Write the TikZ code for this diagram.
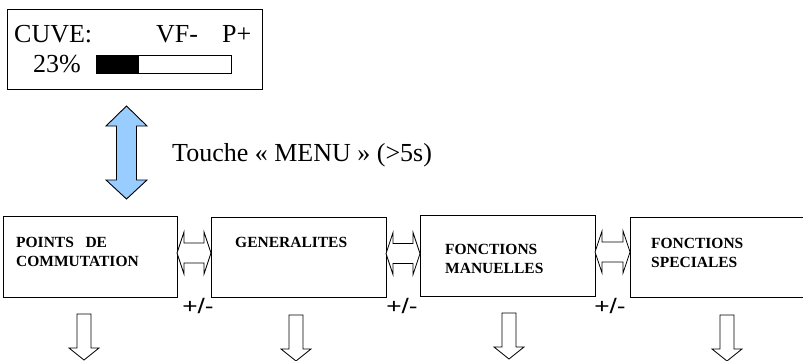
\documentclass[tikz,border=0pt]{standalone}
\usepackage{fontspec}
\setmainfont{Liberation Serif}
\newfontfamily\arialfont{Liberation Sans}
\usetikzlibrary{calc}
\definecolor{arrowblue}{RGB}{153,204,255}
\tikzset{
  menubox/.style={draw, line width=0.9pt, inner sep=0pt, outer sep=0pt},
  lcdtext/.style={anchor=base west, inner sep=0pt, font=\fontsize{26}{30}\selectfont},
  boxlabel/.style={anchor=base west, inner sep=0pt, font=\bfseries\fontsize{15.5}{18}\selectfont},
  pmlabel/.style={inner sep=0pt, font=\arialfont\fontsize{21}{24}\selectfont},
  hollow/.style={draw, fill=white, line width=0.8pt, line join=miter},
}
\newcommand\downblock[1]{\draw[hollow] (#1) ++(-7,0) -- ++(14,0) -- ++(0,34) -- ++(8,0) -- ++(-15,12) -- ++(-15,-12) -- ++(8,0) -- cycle;}
\newcommand\hdblock[2]{%
  \coordinate (L) at ($(#1.east)+(0,-3.5)$);
  \coordinate (R) at (L -| #2.west);
  \draw[hollow] (L) -- ($(L)+(7,-21)$) -- ($(L)+(7,-10)$) -- ($(R)+(-7,-10)$) -- ($(R)+(-7,-21)$) -- (R)
    -- ($(R)+(-7,21)$) -- ($(R)+(-7,10)$) -- ($(L)+(7,10)$) -- ($(L)+(7,21)$) -- cycle;}
\begin{document}
\begin{tikzpicture}[x=1pt,y=-1pt]
\useasboundingbox (0,0) rectangle (803,361);
% LCD display
\node[menubox, minimum width=255pt, minimum height=80pt] (lcd) at (134.5,49) {};
\node[lcdtext] (cuve) at (14,43) {CUVE:};
\node[lcdtext] (vf) at (156,43) {VF-};
\node[lcdtext] (pp) at (222,43) {P+};
\node[lcdtext] (pct) at (33,73) {23\%};
\node[draw, line width=0.9pt, inner sep=0pt, outer sep=0pt, minimum width=135pt, minimum height=18pt] (bar) at (163.5,64) {};
\fill (bar.north west) rectangle ++(43,19);
% MENU double arrow
\coordinate (menuTop) at (126.5,106);
\coordinate (menuBot) at (126.5,199);
\draw[fill=arrowblue, line width=0.9pt] (menuTop) -- ($(menuTop)+(20.5,20)$) -- ($(menuTop)+(10,20)$) -- ($(menuBot)+(10,-19)$) -- ($(menuBot)+(20.5,-19)$) -- (menuBot)
  -- ($(menuBot)+(-20.5,-19)$) -- ($(menuBot)+(-10,-19)$) -- ($(menuTop)+(-10,20)$) -- ($(menuTop)+(-20.5,20)$) -- cycle;
\node[anchor=base west, inner sep=0pt, font=\fontsize{26}{30}\selectfont] (touche) at (172,161) {Touche «~MENU~» (>5s)};
% menu boxes
\node[menubox, minimum width=174pt, minimum height=81pt] (b1) at (90,256.5) {};
\node[menubox, minimum width=175pt, minimum height=80pt] (b2) at (298.5,257) {};
\node[menubox, minimum width=175pt, minimum height=81pt] (b3) at (507.5,255.5) {};
\node[menubox, minimum width=200pt, minimum height=80pt] (b4) at (730,257) {};
\node[boxlabel] (t1a) at (16,247) {POINTS\ \ \ DE};
\node[boxlabel] (t1b) at (16,266) {COMMUTATION};
\node[boxlabel] (t2) at (235,247) {GENERALITES};
\node[boxlabel] (t3a) at (445,254) {FONCTIONS};
\node[boxlabel] (t3b) at (445,273) {MANUELLES};
\node[boxlabel] (t4a) at (651,248) {FONCTIONS};
\node[boxlabel] (t4b) at (651,267) {SPECIALES};
% horizontal double arrows
\hdblock{b1}{b2}
\hdblock{b2}{b3}
\hdblock{b3}{b4}
% +/- labels
\node[pmlabel] (pm1) at (198,306) {\scalebox{1.25}[1]{+/-}};
\node[pmlabel] (pm2) at (402,306) {\scalebox{1.25}[1]{+/-}};
\node[pmlabel] (pm3) at (610,306) {\scalebox{1.25}[1]{+/-}};
% down arrows
\coordinate (d1) at (84,314);
\coordinate (d2) at (296,315);
\coordinate (d3) at (509,313);
\coordinate (d4) at (727,315);
\downblock{d1}
\downblock{d2}
\downblock{d3}
\downblock{d4}
\end{tikzpicture}
\end{document}
